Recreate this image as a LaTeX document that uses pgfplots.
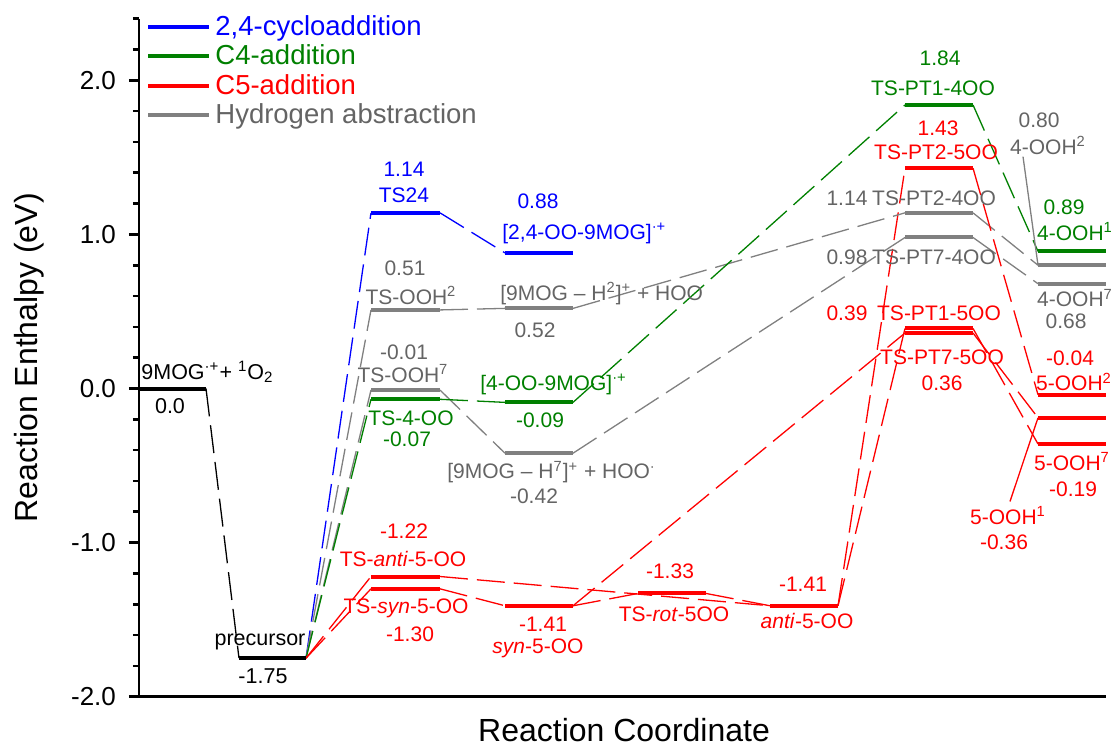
\documentclass[border=0pt]{standalone}
\usepackage{pgfplots}
\pgfplotsset{compat=1.18}
\usepackage{fontspec}
\setmainfont{Liberation Sans}

\definecolor{cblue}{RGB}{0,0,255}
\definecolor{cgreen}{RGB}{0,128,0}
\definecolor{cred}{RGB}{255,0,0}
\definecolor{cgray}{RGB}{128,128,128}
\definecolor{tgray}{RGB}{100,100,100}

\tikzset{
  lbl/.style={font=\fontsize{10.5}{12}\selectfont, anchor=base, inner sep=0pt},
  blk/.style={font=\fontsize{10.75}{12}\selectfont, anchor=base, inner sep=0pt},
}

% energy level: colour, x from, x to, value
\newcommand{\lvl}[4]{\addplot[#1, line width=2pt, forget plot] coordinates {(#2,#4) (#3,#4)};}
% dashed connection: colour, x1, y1, x2, y2
\newcommand{\con}[5]{\addplot[#1, line width=0.65pt, dash pattern=on 14pt off 4.5pt, forget plot] coordinates {(#2,#3) (#4,#5)};}

\begin{document}
\begin{tikzpicture}[x=1pt,y=1pt]
\useasboundingbox (0,0) rectangle (556.5,373.5);
\begin{axis}[
    at={(69.5pt,25.15pt)}, anchor=south west,
    scale only axis, width=483.5pt, height=339pt,
    xmin=139, xmax=1106, ymin=-2, ymax=2.4,
    axis x line=bottom, axis y line=left,
    axis line style={-, line width=1.3pt},
    clip=false,
    xtick=\empty,
    ytick={-2,-1,0,1,2},
    yticklabels={-2.0,-1.0,0.0,1.0,2.0},
    minor ytick={-1.8,-1.6,-1.4,-1.2,-0.8,-0.6,-0.4,-0.2,0.2,0.4,0.6,0.8,1.2,1.4,1.6,1.8,2.2,2.4},
    tick align=outside,
    major tick length=5pt, minor tick length=3pt,
    tick style={line width=1.3pt, black},
    yticklabel style={font=\fontsize{13}{14}\selectfont, xshift=-3pt},
    ylabel={Reaction Enthalpy (eV)},
    xlabel={Reaction Coordinate},
    every axis y label/.style={at={(axis description cs:-0.1138,0.5)}, rotate=90, anchor=center, font=\fontsize{16}{19}\selectfont},
    every axis x label/.style={at={(axis description cs:0.5016,-0.049)}, anchor=center, font=\fontsize{16}{19}\selectfont},
    legend style={at={(axis cs:146,2.4)}, anchor=north west, yshift=3.8pt, draw=none, fill=none,
        font=\fontsize{13.75}{14}\selectfont, row sep=-0.8pt, inner sep=0pt},
    legend cell align=left,
    legend image code/.code={\draw[#1] (0pt,0pt) -- (30.5pt,0pt);},
]
\addlegendimage{cblue, line width=2pt}
\addlegendentry{\textcolor{cblue}{2,4-cycloaddition}}
\addlegendimage{cgreen, line width=2pt}
\addlegendentry{\textcolor{cgreen}{C4-addition}}
\addlegendimage{cred, line width=2pt}
\addlegendentry{\textcolor{cred}{C5-addition}}
\addlegendimage{cgray, line width=2pt}
\addlegendentry{\textcolor{tgray}{Hydrogen abstraction}}

% ---- connections ----
\con{black}{206}{0}{239}{-1.75}
\con{cblue}{306}{-1.75}{371}{1.14}
\con{cgray}{306}{-1.75}{371}{0.51}
\con{cgray}{306}{-1.75}{371}{-0.01}
\con{cgreen}{306}{-1.75}{371}{-0.07}
\con{cred}{306}{-1.75}{371}{-1.22}
\con{cred}{306}{-1.75}{371}{-1.30}
\con{cblue}{440}{1.14}{505}{0.88}
\con{cgray}{440}{0.51}{505}{0.52}
\con{cgray}{440}{-0.01}{505}{-0.42}
\con{cgreen}{440}{-0.07}{505}{-0.09}
\con{cred}{440}{-1.22}{770}{-1.41}
\con{cred}{440}{-1.30}{505}{-1.41}
\con{cred}{573}{-1.41}{638}{-1.33}
\con{cred}{706}{-1.33}{770}{-1.41}
\con{cred}{573}{-1.41}{905}{0.36}
\con{cred}{838}{-1.41}{905}{1.43}
\con{cred}{838}{-1.41}{905}{0.39}
\con{cgray}{573}{0.52}{905}{1.14}
\con{cgray}{573}{-0.42}{905}{0.98}
\con{cgreen}{573}{-0.09}{905}{1.84}
\con{cgreen}{973}{1.84}{1038}{0.89}
\con{cgray}{973}{1.14}{1038}{0.80}
\con{cgray}{973}{0.98}{1038}{0.68}
\con{cred}{973}{1.43}{1038}{-0.04}
\con{cred}{973}{0.39}{1038}{-0.36}
\con{cred}{973}{0.36}{1038}{-0.19}

% pointer lines
\addplot[cgray, line width=0.65pt, forget plot] coordinates {(1023,1.505) (1038,0.80)};
\addplot[cred, line width=0.65pt, forget plot] coordinates {(1010,-0.733) (1038,-0.19)};

% ---- levels ----
\lvl{black}{139}{206}{0}
\lvl{black}{239}{306}{-1.75}
\lvl{cblue}{371}{440}{1.14}
\lvl{cgray}{371}{440}{0.51}
\lvl{cgray}{371}{440}{-0.01}
\lvl{cgreen}{371}{440}{-0.07}
\lvl{cred}{371}{440}{-1.22}
\lvl{cred}{371}{440}{-1.30}
\lvl{cblue}{505}{573}{0.88}
\lvl{cgray}{505}{573}{0.52}
\lvl{cgreen}{505}{573}{-0.09}
\lvl{cgray}{505}{573}{-0.42}
\lvl{cred}{505}{573}{-1.41}
\lvl{cred}{638}{706}{-1.33}
\lvl{cred}{770}{838}{-1.41}
\lvl{cgreen}{905}{973}{1.84}
\lvl{cred}{905}{973}{1.43}
\lvl{cgray}{905}{973}{1.14}
\lvl{cgray}{905}{973}{0.98}
\lvl{cred}{905}{973}{0.39}
\lvl{cred}{905}{973}{0.36}
\lvl{cgreen}{1038}{1106}{0.89}
\lvl{cgray}{1038}{1106}{0.80}
\lvl{cgray}{1038}{1106}{0.68}
\lvl{cred}{1038}{1106}{-0.04}
\lvl{cred}{1038}{1106}{-0.19}
\lvl{cred}{1038}{1106}{-0.36}

% ---- labels ----
\node[blk, anchor=base west] at (axis cs:141,0.058) {9MOG\textsuperscript{·+}+ \textsuperscript{1}O\textsubscript{2}};
\node[blk] at (axis cs:170,-0.162) {0.0};
\node[blk] at (axis cs:260,-1.665) {precursor};
\node[blk] at (axis cs:263,-1.913) {-1.75};

\node[lbl, text=cblue] at (axis cs:404,1.378) {1.14};
\node[lbl, text=cblue] at (axis cs:404,1.209) {TS24};
\node[lbl, text=cblue] at (axis cs:538,1.171) {0.88};
\node[lbl, text=cblue, anchor=base west] at (axis cs:502,0.970) {[2,4-OO-9MOG]\textsuperscript{·+}};

\node[lbl, text=tgray] at (axis cs:405,0.736) {0.51};
\node[lbl, text=tgray] at (axis cs:411,0.548) {TS-OOH\textsuperscript{2}};
\node[lbl, text=tgray, anchor=base west] at (axis cs:500,0.574) {[9MOG \textendash{} H\textsuperscript{2}]\textsuperscript{+} + HOO};
\node[lbl, text=tgray] at (axis cs:535,0.334) {0.52};
\node[lbl, text=tgray] at (axis cs:404,0.191) {-0.01};
\node[lbl, text=tgray] at (axis cs:403,0.042) {TS-OOH\textsuperscript{7}};
\node[lbl, text=tgray, anchor=base west] at (axis cs:447,-0.587) {[9MOG \textendash{} H\textsuperscript{7}]\textsuperscript{+} + HOO\textsuperscript{·}};
\node[lbl, text=tgray] at (axis cs:534,-0.749) {-0.42};
\node[lbl, text=tgray] at (axis cs:847,1.190) {1.14};
\node[lbl, text=tgray] at (axis cs:934,1.190) {TS-PT2-4OO};
\node[lbl, text=tgray] at (axis cs:847,0.807) {0.98};
\node[lbl, text=tgray] at (axis cs:934,0.807) {TS-PT7-4OO};
\node[lbl, text=tgray] at (axis cs:1039,1.696) {0.80};
\node[lbl, text=tgray] at (axis cs:1048,1.521) {4-OOH\textsuperscript{2}};
\node[lbl, text=tgray] at (axis cs:1075,0.529) {4-OOH\textsuperscript{7}};
\node[lbl, text=tgray] at (axis cs:1066,0.392) {0.68};

\node[lbl, text=cgreen] at (axis cs:940,2.098) {1.84};
\node[lbl, text=cgreen] at (axis cs:933,1.903) {TS-PT1-4OO};
\node[lbl, text=cgreen] at (axis cs:1064,1.132) {0.89};
\node[lbl, text=cgreen] at (axis cs:1075,0.963) {4-OOH\textsuperscript{1}};
\node[lbl, text=cgreen] at (axis cs:411,-0.237) {TS-4-OO};
\node[lbl, text=cgreen] at (axis cs:407,-0.379) {-0.07};
\node[lbl, text=cgreen, anchor=base west] at (axis cs:480,-0.010) {[4-OO-9MOG]\textsuperscript{·+}};
\node[lbl, text=cgreen] at (axis cs:540,-0.250) {-0.09};

\node[lbl, text=cred] at (axis cs:404,-0.976) {-1.22};
\node[lbl, text=cred] at (axis cs:403,-1.158) {TS-\textit{anti}-5-OO};
\node[lbl, text=cred] at (axis cs:406,-1.462) {TS-\textit{syn}-5-OO};
\node[lbl, text=cred] at (axis cs:410,-1.644) {-1.30};
\node[lbl, text=cred] at (axis cs:543,-1.579) {-1.41};
\node[lbl, text=cred] at (axis cs:538,-1.722) {\textit{syn}-5-OO};
\node[lbl, text=cred] at (axis cs:670,-1.235) {-1.33};
\node[lbl, text=cred] at (axis cs:674,-1.514) {TS-\textit{rot}-5OO};
\node[lbl, text=cred] at (axis cs:803,-1.320) {-1.41};
\node[lbl, text=cred] at (axis cs:807,-1.560) {\textit{anti}-5-OO};
\node[lbl, text=cred] at (axis cs:938,1.644) {1.43};
\node[lbl, text=cred] at (axis cs:936,1.488) {TS-PT2-5OO};
\node[lbl, text=cred] at (axis cs:847,0.444) {0.39};
\node[lbl, text=cred] at (axis cs:939,0.444) {TS-PT1-5OO};
\node[lbl, text=cred] at (axis cs:942,0.159) {TS-PT7-5OO};
\node[lbl, text=cred] at (axis cs:942,-0.010) {0.36};
\node[lbl, text=cred] at (axis cs:1070,0.152) {-0.04};
\node[lbl, text=cred] at (axis cs:1074,-0.016) {5-OOH\textsuperscript{2}};
\node[lbl, text=cred] at (axis cs:1072,-0.529) {5-OOH\textsuperscript{7}};
\node[lbl, text=cred] at (axis cs:1073,-0.704) {-0.19};
\node[lbl, text=cred] at (axis cs:1008,-0.885) {5-OOH\textsuperscript{1}};
\node[lbl, text=cred] at (axis cs:1004,-1.047) {-0.36};
\end{axis}
\end{tikzpicture}
\end{document}
